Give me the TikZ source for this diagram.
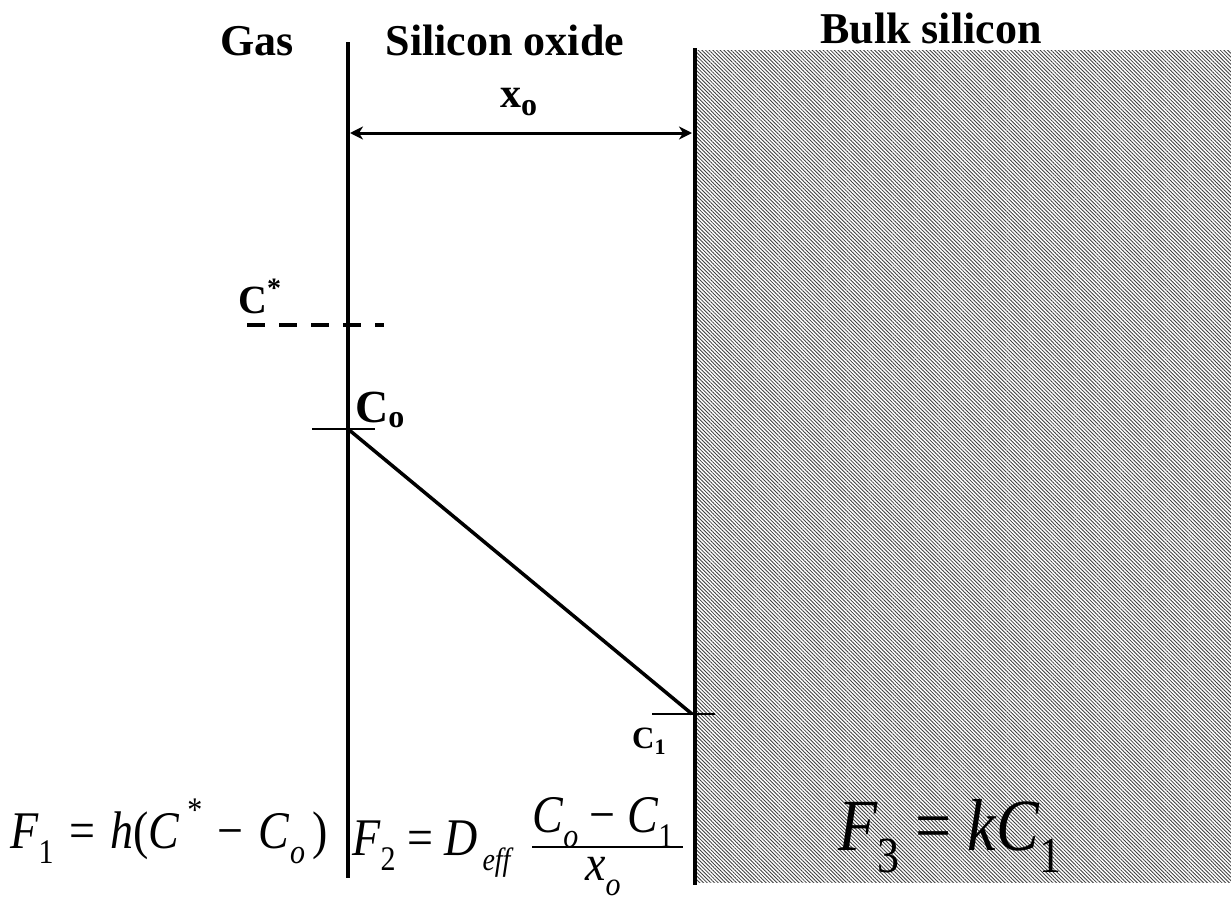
\documentclass[tikz,border=0pt]{standalone}
\usepackage{fontspec}
\setmainfont{Liberation Serif}
\usetikzlibrary{patterns.meta,arrows.meta}
\newcommand\fsz[1]{\fontsize{#1}{#1}\selectfont}
\newcommand\ssub[2][30]{\raisebox{-0.3em}{\fsz{#1}#2}}
\newcommand\ssup[2][30]{\raisebox{0.5em}{\fsz{#1}#2}}
\begin{document}
\begin{tikzpicture}[x=1pt,y=-1pt,
  wall/.style={line width=4.5pt},
  tickline/.style={line width=1.8pt},
  head/.style={inner sep=0pt, anchor=base, font=\fsz{44}\bfseries},
  lbl/.style={inner sep=0pt, anchor=base west, font=\fsz{42}\bfseries},
  formula/.style={inner sep=0pt, anchor=base west, font=\fsz{46}},
  arr/.style={line width=3pt, {Stealth[length=13pt,width=13pt,inset=4pt]}-{Stealth[length=13pt,width=13pt,inset=4pt]}}]
\useasboundingbox (0,0) rectangle (1231,900);
\fill[white] (0,0) rectangle (1231,900);
% bulk silicon hatch
\fill[pattern={Lines[angle=-45,distance=2.6pt,line width=0.85pt]}, pattern color=black!75] (697,50) rectangle (1231,882);
% walls
\coordinate (LT) at (348,42);
\coordinate (LB) at (348,878);
\coordinate (RT) at (695,48);
\coordinate (RB) at (695,885);
\draw[wall] (LT) -- (LB);
\draw[wall] (RT) -- (RB);
% headers
\node[head] (gas) at (257,55) {Gas};
\node[head] (sio) at (505,55) {Silicon oxide};
\node[head] (bulk) at (931,43) {Bulk silicon};
% thickness arrow
\coordinate (AL) at (350,133);
\coordinate (AR) at (692,133);
\draw[arr] (AL) -- (AR);
\node[lbl] (xo) at (500,107) {x\raisebox{-8pt}{\fsz{32}o}};
% C*
\node[lbl, font=\fsz{40}\bfseries] (cstar) at (238,313) {C\raisebox{16pt}{\fsz{28}*}};
\coordinate (DL) at (247,325);
\coordinate (DR) at (384,325);
\draw[line width=4.5pt, dash pattern=on 18pt off 14pt] (DL) -- (DR);
% C_o
\coordinate (T0L) at (312,429);
\coordinate (T0R) at (375,429);
\draw[tickline] (T0L) -- (T0R);
\node[lbl, font=\fsz{46}\bfseries] (co) at (355,422) {C\raisebox{-5pt}{\fsz{32}o}};
% profile
\coordinate (P0) at (348,429);
\coordinate (P1) at (692,714);
\draw[line width=3.5pt] (P0) -- (P1);
% C_1
\coordinate (T1L) at (652,714);
\coordinate (T1R) at (715,714);
\draw[tickline] (T1L) -- (T1R);
\node[lbl, font=\fsz{31}\bfseries] (c1) at (632,748) {C\raisebox{-6pt}{\fsz{22}1}};
% formulas
\node[formula] (f1) at (10,848) {\scalebox{1}[1.15]{\textit{F}\ssub{1}\,\,=\,\,\textit{h}(\textit{C}\,\ssup{*}\,\,−\,\,\textit{C}\ssub{\textit{o}}\,)}};
\node[formula] (f2) at (352,855) {\scalebox{1}[1.15]{\textit{F}\ssub{2} = \textit{D}\ssub[28]{\,\textit{eff}}}};
\node[formula] (num) at (532,832) {\scalebox{1}[1.15]{\textit{C}\ssub{\textit{o}} − \textit{C}\ssub{1}}};
\node[formula] (den) at (585,880) {\scalebox{1}[1.1]{\textit{x}\ssub{\textit{o}}}};
\coordinate (BL) at (532,847);
\coordinate (BR) at (683,847);
\draw[line width=1.8pt] (BL) -- (BR);
\node[formula, font=\fsz{64}] (f3) at (838,850) {\scalebox{1}[1.15]{\textit{F}\ssub[44]{3} = \textit{kC}\ssub[44]{1}}};
\end{tikzpicture}
\end{document}
